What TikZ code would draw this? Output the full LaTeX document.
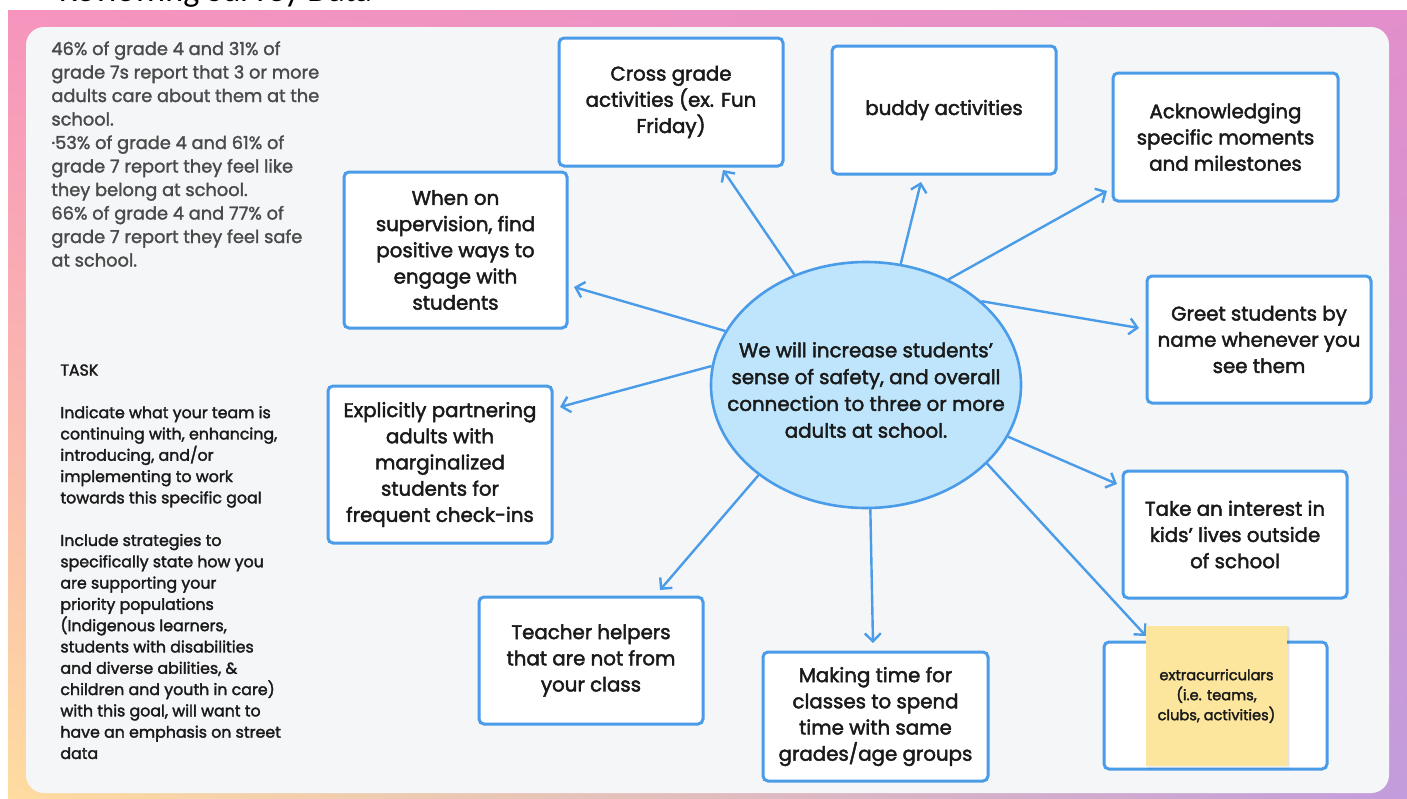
\documentclass[tikz,border=0pt]{standalone}
\usepackage{fontspec}
\setmainfont{Poppins}
\newfontfamily\boxfont{Poppins}[FakeBold=2.2]
\newfontfamily\leftfont{Poppins}[FakeBold=1.6]
\newfontfamily\taskfont{Poppins}[FakeBold=2.0]
\newfontfamily\titlefont{Carlito}
\usetikzlibrary{arrows.meta,shapes.geometric,shadings}
\definecolor{bluebd}{HTML}{4A9BE8}
\definecolor{ellfill}{HTML}{BEE5FB}
\definecolor{panelc}{HTML}{F5F6F8}
\definecolor{stickyc}{HTML}{FCE59D}
\definecolor{txt}{HTML}{1A1A1A}
\definecolor{graytxt}{HTML}{4A4A4A}
\definecolor{gUL}{HTML}{F694BD}
\definecolor{gUR}{HTML}{E28FCB}
\definecolor{gLL}{HTML}{FFDCA0}
\definecolor{gLR}{HTML}{C29CDC}
\begin{document}
\begin{tikzpicture}[x=0.5pt,y=-0.5pt,
  box/.style={draw=bluebd, line width=1.5pt, fill=white, rounded corners=2.5pt,
    inner sep=0pt, align=center, text=txt, font=\boxfont\fontsize{9.9}{13.1}\selectfont},
  goalnode/.style={ellipse, draw=bluebd, line width=1.3pt, fill=ellfill, inner sep=0pt,
    minimum width=155pt, minimum height=123pt},
  goaltext/.style={inner sep=0pt, align=center, text=txt, font=\boxfont\fontsize{9.9}{13.4}\selectfont},
  conn/.style={draw=bluebd, line width=1.2pt, -{Straight Barb[length=4pt,width=8pt]}},
  stickynote/.style={fill=stickyc, inner sep=0pt, minimum width=70.5pt, minimum height=70pt,
    align=center, text=txt, font=\boxfont\fontsize{7.3}{10}\selectfont}
]
\useasboundingbox (0,0) rectangle (1407,798);
\fill[white] (0,0) rectangle (1407,798);
% title strip (cut off)
\begin{scope}
\clip (0,0) rectangle (1407,10);
\node[anchor=base east, inner sep=0pt, font=\titlefont\fontsize{17}{18}\selectfont] (title) at (372,1) {Reviewing Survey Data};
\end{scope}
% gradient frame
\shade[upper left=gUL, upper right=gUR, lower left=gLL, lower right=gLR]
  (8,10) rectangle (1407,798);
% panel
\fill[panelc, rounded corners=9pt] (26,27) rectangle (1389,793);

% left texts
\node[anchor=north west, inner sep=0pt, align=left, text=graytxt, font=\leftfont\fontsize{8.9}{11.75}\selectfont] (stats) at (51,41)
{46\% of grade 4 and 31\% of\\grade 7s report that 3 or more\\adults care about them at the\\school.\\·53\% of grade 4 and 61\% of\\grade 7 report they feel like\\they belong at school.\\66\% of grade 4 and 77\% of\\grade 7 report they feel safe\\at school.};

\node[anchor=north west, inner sep=0pt, align=left, text=txt, font=\taskfont\fontsize{7.9}{10.65}\selectfont] (task) at (60,364)
{TASK\\[10.65pt]Indicate what your team is\\continuing with, enhancing,\\introducing, and/or\\implementing to work\\towards this specific goal\\[10.65pt]Include strategies to\\specifically state how you\\are supporting your\\priority populations\\(Indigenous learners,\\students with disabilities\\and diverse abilities, \&\\children and youth in care)\\with this goal, will want to\\have an emphasis on street\\data};

% centre
\node[goalnode] (goal) at (866,385) {};
\node[goaltext] (goallabel) at (866,390) {We will increase students’\\sense of safety, and overall\\connection to three or more\\adults at school.};

% boxes
\node[box, minimum width=112pt, minimum height=64pt] (cross) at (671,102) {Cross grade\\activities (ex. Fun\\Friday)};
\node[box, minimum width=112pt, minimum height=64pt] (buddy) at (944,110) {buddy activities};
\node[box, minimum width=112.5pt, minimum height=64pt] (ack) at (1225.5,137) {Acknowledging\\specific moments\\and milestones};
\node[box, minimum width=112pt, minimum height=63.5pt] (greet) at (1259,339.5) {Greet students by\\name whenever you\\see them};
\node[box, minimum width=112pt, minimum height=63.5pt] (interest) at (1235,534.5) {Take an interest in\\kids’ lives outside\\of school};
\node[box, minimum width=111.5pt, minimum height=63.5pt] (extra) at (1215.5,705.5) {};
\node[box, minimum width=112.5pt, minimum height=64.5pt] (making) at (875.5,716.5) {Making time for\\classes to spend\\time with same\\grades/age groups};
\node[box, minimum width=112pt, minimum height=63.5pt] (teacher) at (591,660.5) {Teacher helpers\\that are not from\\your class};
\node[box, minimum width=112pt, minimum height=78.5pt] (explicit) at (440,464.5) {Explicitly partnering\\adults with\\marginalized\\students for\\frequent check-ins};
\node[box, minimum width=111.5pt, minimum height=78pt] (when) at (455.5,250) {When on\\supervision, find\\positive ways to\\engage with\\students};

% arrow tips
\coordinate (t1) at (723,170);
\coordinate (t2) at (921,182);
\coordinate (t3) at (1107,191);
\coordinate (t4) at (1139,328);
\coordinate (t5) at (1117,484);
\coordinate (t6) at (1146,636);
\coordinate (t7) at (873,643);
\coordinate (t8) at (660,590);
\coordinate (t9) at (560,407);
\coordinate (t10) at (574,287);

\draw[conn] (goal.123) -- (t1);
\draw[conn] (goal.74.7) -- (t2);
\draw[conn] (goal.52.4) -- (t3);
\draw[conn] (goal.36.9) -- (t4);
\draw[conn] (goal.-20.3) -- (t5);
\draw[conn] (goal.-33.8) -- (t6);
\draw[conn] (goal.-88.6) -- (t7);
\draw[conn] (goal.220.8) -- (t8);
\draw[conn] (goal.173) -- (t9);
\draw[conn] (goal.159) -- (t10);

% sticky note with soft shadow
\fill[black, opacity=0.05] (1147,628) rectangle (1290,769);
\fill[black, opacity=0.06] (1147,626) rectangle (1289,766);
\node[stickynote] (sticky) at (1216.5,696) {extracurriculars\\(i.e. teams,\\clubs, activities)};
\end{tikzpicture}
\end{document}
